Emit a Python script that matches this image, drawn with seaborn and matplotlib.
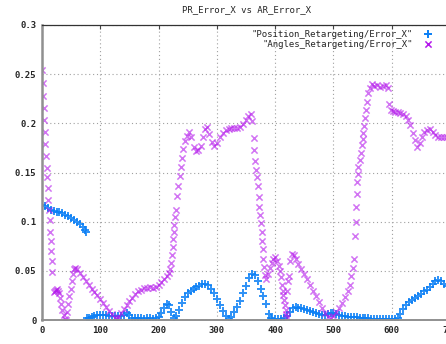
import matplotlib
matplotlib.use("Agg")
import matplotlib.pyplot as plt
import seaborn as sns
import pandas as pd

# values
pos_x = [0, 5, 10, 15, 20, 25, 30, 35, 40, 45, 50, 55, 60, 65, 70, 73, 76,
         78, 80, 85, 90, 95, 100, 105, 110, 115, 120, 125, 130, 135, 140, 145,
         150, 155, 160, 165, 170, 175, 180, 185, 190, 195, 200, 205, 210, 215,
         218, 222, 226, 230, 235, 240, 245, 250, 255, 260, 265, 270, 275, 280,
         285, 290, 295, 300, 305, 310, 315, 320, 325, 330, 335, 340, 345, 350,
         355, 360, 365, 370, 375, 380, 385, 390, 393, 395, 400, 405, 410, 415,
         420, 425, 430, 435, 440, 445, 450, 455, 460, 465, 470, 475, 480, 485,
         490, 495, 500, 505, 510, 515, 520, 525, 530, 535, 540, 545, 550, 555,
         560, 565, 570, 575, 580, 585, 590, 595, 600, 605, 610, 615, 620, 625,
         630, 635, 640, 645, 650, 655, 660, 665, 670, 675, 680, 685, 690, 695,
         700]
pos_err = [0.117, 0.116, 0.114, 0.112, 0.111, 0.110, 0.110, 0.109, 0.107,
           0.106, 0.104, 0.102, 0.100, 0.098, 0.095, 0.092, 0.090,
           0.002, 0.002, 0.003, 0.004, 0.005, 0.005, 0.005, 0.005, 0.004,
           0.004, 0.004, 0.004, 0.004, 0.005, 0.007, 0.005, 0.002, 0.002,
           0.002, 0.002, 0.001, 0.002, 0.002, 0.001, 0.002, 0.003, 0.007,
           0.012, 0.016, 0.015, 0.008, 0.002, 0.004, 0.010, 0.017, 0.023,
           0.027, 0.030, 0.032, 0.034, 0.035, 0.037, 0.037, 0.036, 0.032,
           0.027, 0.021, 0.015, 0.009, 0.004, 0.001, 0.003, 0.008, 0.013,
           0.019, 0.027, 0.035, 0.043, 0.047, 0.046, 0.040, 0.032, 0.024,
           0.016, 0.006, 0.002, 0.001, 0.001, 0.001, 0.001, 0.002, 0.004,
           0.008, 0.012, 0.013, 0.012, 0.012, 0.011, 0.010, 0.009, 0.008,
           0.007, 0.006, 0.005, 0.005, 0.006, 0.007, 0.007, 0.006, 0.005,
           0.004, 0.004, 0.003, 0.003, 0.003, 0.003, 0.002, 0.002, 0.002,
           0.002, 0.001, 0.001, 0.001, 0.001, 0.001, 0.001, 0.001, 0.001,
           0.001, 0.002, 0.006, 0.011, 0.015, 0.018, 0.020, 0.022, 0.024,
           0.026, 0.029, 0.031, 0.034, 0.037, 0.040, 0.041, 0.040, 0.037,
           0.035, 0.034]

ang_x = [0, 1, 2, 3, 4, 5, 6, 7, 8, 9, 10, 11, 12, 13, 14, 15, 16, 17, 18,
         20, 22, 24, 26, 28, 30, 31, 33, 35, 37, 39, 41, 43, 45, 47, 49, 51,
         53, 55, 57, 60, 65, 70, 75, 80, 85, 90, 95, 100, 105, 110, 115, 120,
         125, 128, 130, 135, 140, 145, 150, 155, 160, 165, 170, 175, 180, 185,
         190, 195, 200, 205, 210, 215, 218, 220, 222, 223, 224, 225, 226, 227,
         229, 230, 232, 234, 236, 238, 240, 242, 245, 248, 252, 256, 260, 264,
         268, 272, 276, 280, 283, 287, 291, 295, 300, 305, 310, 315, 320, 325,
         330, 335, 340, 345, 350, 354, 358, 361, 363, 364, 366, 368, 369, 370,
         372, 373, 374, 376, 377, 378, 379, 380, 381, 383, 385, 388, 391, 394,
         397, 400, 403, 406, 408, 410, 412, 413, 414, 415, 417, 418, 419, 420,
         421, 422, 423, 426, 429, 432, 436, 440, 445, 450, 455, 460, 465, 470,
         475, 480, 485, 490, 495, 500, 505, 510, 515, 520, 525, 528, 531, 533,
         535, 537, 538, 539, 540, 541, 542, 543, 545, 547, 549, 550, 551, 552,
         554, 556, 558, 560, 563, 566, 570, 575, 580, 585, 590, 593, 595, 598,
         602, 606, 610, 615, 620, 624, 628, 632, 636, 640, 644, 648, 652, 656,
         660, 665, 670, 675, 680, 685, 690, 695, 700]
ang_err = [0.254, 0.241, 0.228, 0.216, 0.203, 0.191, 0.179, 0.167, 0.155,
           0.145, 0.134, 0.122, 0.112, 0.102, 0.090, 0.080, 0.070, 0.060,
           0.049, 0.028, 0.029, 0.031, 0.032, 0.030, 0.027, 0.022, 0.016,
           0.010, 0.005, 0.001, 0.000, 0.008, 0.016, 0.024, 0.032, 0.040,
           0.047, 0.052, 0.053, 0.052, 0.048, 0.044, 0.040, 0.036, 0.032,
           0.028, 0.025, 0.021, 0.017, 0.013, 0.009, 0.006, 0.002, 0.001,
           0.003, 0.007, 0.011, 0.015, 0.019, 0.022, 0.026, 0.029, 0.031,
           0.033, 0.033, 0.034, 0.033, 0.034, 0.036, 0.039, 0.042, 0.045,
           0.048, 0.052, 0.058, 0.066, 0.074, 0.082, 0.090, 0.097, 0.105,
           0.112, 0.126, 0.136, 0.146, 0.156, 0.165, 0.174, 0.182, 0.187,
           0.191, 0.186, 0.176, 0.172, 0.173, 0.177, 0.186, 0.194, 0.196,
           0.189, 0.181, 0.177, 0.180, 0.186, 0.190, 0.193, 0.194, 0.195,
           0.195, 0.195, 0.196, 0.199, 0.203, 0.207, 0.209, 0.202, 0.185,
           0.173, 0.162, 0.153, 0.145, 0.136, 0.125, 0.115, 0.107, 0.099,
           0.090, 0.080, 0.072, 0.062, 0.054, 0.046, 0.042, 0.047, 0.053,
           0.058, 0.062, 0.064, 0.060, 0.055, 0.050, 0.044, 0.036, 0.030,
           0.025, 0.020, 0.015, 0.010, 0.006, 0.003, 0.030, 0.040, 0.045,
           0.060, 0.067, 0.066, 0.062, 0.057, 0.052, 0.047, 0.042, 0.036,
           0.030, 0.024, 0.018, 0.012, 0.007, 0.003, 0.002, 0.004, 0.008,
           0.012, 0.017, 0.023, 0.030, 0.036, 0.045, 0.053, 0.062, 0.085,
           0.100, 0.115, 0.128, 0.140, 0.148, 0.156, 0.163, 0.170, 0.178,
           0.184, 0.190, 0.197, 0.205, 0.214, 0.222, 0.231, 0.236, 0.240,
           0.238, 0.239, 0.237, 0.238, 0.239, 0.236, 0.220, 0.214, 0.213,
           0.212, 0.212, 0.211, 0.210, 0.207, 0.203, 0.198, 0.190, 0.183,
           0.176, 0.180, 0.186, 0.191, 0.193, 0.194, 0.191, 0.188, 0.186,
           0.186, 0.186, 0.186, 0.186]

y_ticks = [0, 0.05, 0.1, 0.15, 0.2, 0.25, 0.3]
y_tick_labels = ["0", "0.05", "0.1", "0.15", "0.2", "0.25", "0.3"]
x_ticks = [0, 100, 200, 300, 400, 500, 600, 700]

pos_label = '"Position_Retargeting/Error_X"'
ang_label = '"Angles_Retargeting/Error_X"'

pos_df = pd.DataFrame({"frame": pos_x, "error": pos_err})
ang_df = pd.DataFrame({"frame": ang_x, "error": ang_err})

sns.set_style("white")
plt.rcParams["font.family"] = ["DejaVu Sans Mono"]

fig = plt.figure(figsize=(4.46, 3.44), dpi=100)
# axes run past the right edge, like the cropped reference
ax = fig.add_axes([42 / 446, 24 / 344, 408 / 446, 295 / 344])

sns.scatterplot(data=pos_df, x="frame", y="error", marker="+", s=26,
                color="#0a7ff5", linewidth=1.4, alpha=0.85, label=pos_label, ax=ax)
sns.scatterplot(data=ang_df, x="frame", y="error", marker="x", s=20,
                color="#b418ec", linewidth=1.1, alpha=0.6, label=ang_label, ax=ax)

ax.set_xlim(0, 700)
ax.set_ylim(0, 0.3)
ax.set_xticks(x_ticks)
ax.set_xticklabels([str(t) for t in x_ticks])
ax.set_yticks(y_ticks)
ax.set_yticklabels(y_tick_labels)
ax.set_xlabel("")
ax.set_ylabel("")
ax.grid(True, linestyle=(0, (1, 2.5)), color="#a0a0a0", linewidth=0.8)
ax.set_axisbelow(True)

for lab in ax.get_xticklabels() + ax.get_yticklabels():
    lab.set_fontsize(6.5)
    lab.set_fontweight("bold")
ax.tick_params(axis="both", direction="in", length=3, color="#444444", pad=4)
ax.tick_params(top=True, right=False)

ax.spines["left"].set_color("#909090")
ax.spines["left"].set_linewidth(1.8)
ax.spines["bottom"].set_color("#909090")
ax.spines["bottom"].set_linewidth(1.4)
ax.spines["top"].set_color("#333333")
ax.spines["top"].set_linewidth(0.9)

ax.set_title("PR_Error_X vs AR_Error_X", fontsize=6.5, pad=9)

leg = ax.legend(loc="upper right", bbox_to_anchor=(436 / 446, 1 - 26 / 344),
                bbox_transform=fig.transFigure, frameon=False, markerfirst=False,
                fontsize=6.5, handletextpad=1.2, labelspacing=0.1,
                borderaxespad=0, handlelength=1.0)
for h in leg.legend_handles:
    h.set_alpha(1.0)

fig.savefig("out.png", dpi=100)
